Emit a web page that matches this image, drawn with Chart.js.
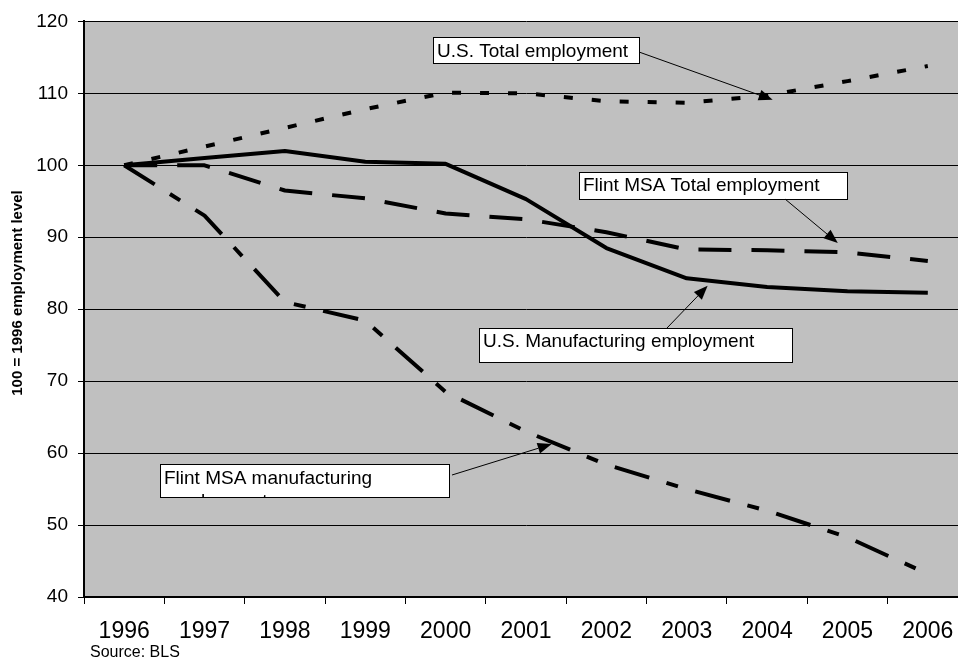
<!DOCTYPE html>
<html>
<head>
<meta charset="utf-8">
<script src="https://cdn.jsdelivr.net/npm/chart.js@4.4.0/dist/chart.umd.min.js"></script>
<style>
    html, body { margin: 0; padding: 0; background: #ffffff; overflow: hidden; }
    #wrap { position: relative; width: 976px; height: 658px; }
</style>
</head>
<body>
<div id="wrap"><canvas id="chart"></canvas></div>
<script>
// Dados (índice 100 = 1996)
const years = ['1996', '1997', '1998', '1999', '2000', '2001', '2002', '2003', '2004', '2005', '2006'];
const usTotal = [100, 102.6, 105.2, 107.8, 110.1, 110.0, 108.9, 108.7, 109.7, 111.7, 113.8];
const usManufacturing = [100, 101.0, 102.0, 100.5, 100.2, 95.3, 88.5, 84.3, 83.1, 82.5, 82.3];
const flintTotal = [100, 100.0, 96.5, 95.4, 93.3, 92.5, 90.7, 88.3, 88.2, 87.9, 86.7];
const flintManufacturing = [100, 93.0, 81.0, 78.4, 68.5, 63.0, 58.4, 55.0, 52.0, 48.3, 43.2];
const yTicks = [40, 50, 60, 70, 80, 90, 100, 110, 120];

const FONT = '"Liberation Sans", Arial, sans-serif';
const PLOT_BG = '#c0c0c0';

// Caixas de texto com setas (x/y da ponta em coordenadas dos dados)
const notes = [
    { lines: ['U.S. Total employment'], box: [433, 37, 206, 26], textY: 57, from: [639, 52], tip: [8.07, 109.1] },
    { lines: ['Flint MSA Total employment'], box: [579, 172, 268, 27], textY: 191, from: [785, 199], tip: [8.88, 89.2] },
    { lines: ['U.S. Manufacturing employment'], box: [479, 328, 313, 34], textY: 347, from: [667, 328], tip: [7.26, 83.25] },
    { lines: ['Flint MSA manufacturing', 'employment'], box: [160, 464, 289, 33], textY: 484, from: [452, 475], tip: [5.32, 61.25] }
];

function drawArrow(ctx, x1, y1, x2, y2) {
    const ang = Math.atan2(y2 - y1, x2 - x1);
    const len = 14, half = 5.5;
    const bx = x2 - len * Math.cos(ang), by = y2 - len * Math.sin(ang);
    ctx.beginPath();
    ctx.moveTo(x1, y1);
    ctx.lineTo(bx, by);
    ctx.stroke();
    ctx.beginPath();
    ctx.moveTo(x2, y2);
    ctx.lineTo(bx + half * Math.sin(ang), by - half * Math.cos(ang));
    ctx.lineTo(bx - half * Math.sin(ang), by + half * Math.cos(ang));
    ctx.closePath();
    ctx.fill();
}

const plotBackground = {
    id: 'plotBackground',
    beforeDraw(chart) {
        const { ctx, chartArea } = chart;
        ctx.save();
        ctx.fillStyle = PLOT_BG;
        ctx.fillRect(chartArea.left, chartArea.top, chartArea.right - chartArea.left, chartArea.bottom - chartArea.top);
        ctx.restore();
    }
};

const annotations = {
    id: 'annotations',
    afterDraw(chart) {
        const { ctx } = chart;
        const xs = chart.scales.x, ys = chart.scales.y;
        ctx.save();
        ctx.strokeStyle = '#000';
        ctx.fillStyle = '#000';
        ctx.lineWidth = 1;

        notes.forEach(n => {
            const [bx, by, bw, bh] = n.box;
            ctx.fillStyle = '#fff';
            ctx.fillRect(bx, by, bw, bh);
            ctx.strokeStyle = '#000';
            ctx.strokeRect(bx + 0.5, by + 0.5, bw, bh);

            ctx.save();
            ctx.beginPath();
            ctx.rect(bx + 1, by + 1, bw - 1, bh - 1);
            ctx.clip();
            ctx.fillStyle = '#000';
            ctx.font = '19px ' + FONT;
            ctx.textAlign = 'left';
            ctx.textBaseline = 'alphabetic';
            n.lines.forEach((t, i) => ctx.fillText(t, bx + 4, n.textY + i * 23));
            ctx.restore();

            ctx.fillStyle = '#000';
            const tx = xs.getPixelForValue(n.tip[0]);
            const ty = ys.getPixelForValue(n.tip[1]);
            drawArrow(ctx, n.from[0], n.from[1], tx, ty);
        });

        // Título do eixo Y
        ctx.save();
        ctx.translate(18, 293);
        ctx.rotate(-Math.PI / 2);
        ctx.font = 'bold 15px ' + FONT;
        ctx.textAlign = 'center';
        ctx.textBaseline = 'middle';
        ctx.fillText('100 = 1996 employment level', 0, 0);
        ctx.restore();

        // Fonte
        ctx.font = '16px ' + FONT;
        ctx.textAlign = 'left';
        ctx.textBaseline = 'alphabetic';
        ctx.fillText('Source: BLS', 90, 657);
        ctx.restore();
    }
};

function lineSet(label, data, dash) {
    return {
        label: label,
        data: data,
        borderColor: '#000',
        backgroundColor: '#000',
        borderWidth: 4,
        borderDash: dash,
        borderCapStyle: 'butt',
        borderJoinStyle: 'round',
        pointRadius: 0,
        tension: 0,
        fill: false
    };
}

const ctx = document.getElementById('chart');
new Chart(ctx, {
    type: 'line',
    data: {
        labels: years,
        datasets: [
            lineSet('Flint MSA manufacturing employment', flintManufacturing, [36, 18, 12, 18]),
            lineSet('Flint MSA Total employment', flintTotal, [33, 20]),
            lineSet('U.S. Total employment', usTotal, [9, 19]),
            lineSet('U.S. Manufacturing employment', usManufacturing, [])
        ]
    },
    options: {
        responsive: true,
        maintainAspectRatio: false,
        animation: false,
        layout: { padding: { top: 18, right: 8, left: 0, bottom: 0 } },
        plugins: {
            legend: { display: false },
            tooltip: { enabled: false }
        },
        scales: {
            x: {
                type: 'category',
                offset: true,
                grid: {
                    offset: true,
                    drawOnChartArea: false,
                    drawTicks: true,
                    tickLength: 7,
                    color: '#000',
                    lineWidth: 1
                },
                border: { display: true, color: '#000', width: 2 },
                ticks: {
                    color: '#000',
                    font: { family: FONT, size: 23 },
                    padding: 14,
                    maxRotation: 0,
                    autoSkip: false
                },
                afterFit: function(scale) { scale.height = 61; }
            },
            y: {
                min: 40,
                max: 120,
                afterBuildTicks: function(scale) {
                    scale.ticks = yTicks.map(v => ({ value: v }));
                },
                grid: {
                    color: '#000',
                    lineWidth: 1,
                    drawTicks: true,
                    tickLength: 6
                },
                border: { display: true, color: '#000', width: 2 },
                ticks: {
                    color: '#000',
                    font: { family: FONT, size: 19 },
                    padding: 10
                },
                afterFit: function(scale) { scale.width = 84; }
            }
        }
    },
    plugins: [plotBackground, annotations]
});
</script>
</body>
</html>
